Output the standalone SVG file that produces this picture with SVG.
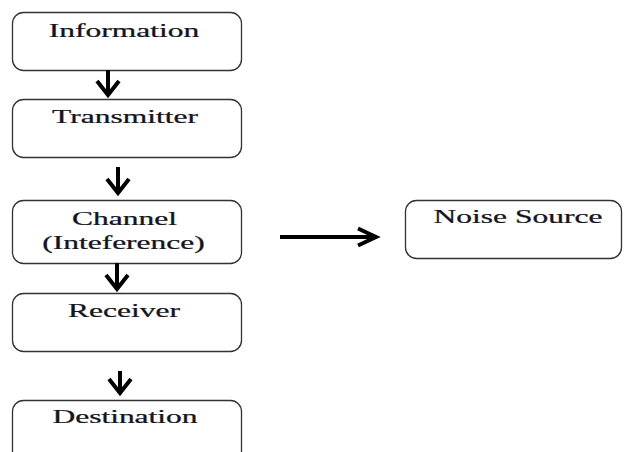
<svg xmlns="http://www.w3.org/2000/svg" width="625" height="452" viewBox="0 0 625 452">
<style>
.box{fill:#fff;stroke:#333;stroke-width:1.3}
.t{font-family:"Liberation Serif","Times New Roman",serif;font-size:18px;fill:#141420;stroke:#141420;stroke-width:0.25;text-anchor:middle}
.c{fill:none;stroke:#000;stroke-width:4;stroke-linecap:butt;stroke-linejoin:miter}
</style>
<rect width="625" height="452" fill="#fff"/>
<g id="information"><rect class="box" x="12.5" y="12.5" width="229" height="58" rx="11"/><text class="t" transform="translate(124,37) scale(1.75,1)">Information</text></g>
<g id="transmitter"><rect class="box" x="12.5" y="99.5" width="229" height="58" rx="11"/><text class="t" transform="translate(125,123) scale(1.75,1)">Transmitter</text></g>
<g id="channel"><rect class="box" x="12.5" y="200.5" width="229" height="63" rx="11"/><text class="t" transform="translate(124.5,225) scale(1.75,1)">Channel</text><text class="t" transform="translate(123.5,249) scale(1.75,1)">(Inteference)</text></g>
<g id="receiver"><rect class="box" x="12.5" y="293.5" width="229" height="58" rx="11"/><text class="t" transform="translate(124,317) scale(1.75,1)">Receiver</text></g>
<g id="destination"><path class="box" d="M12.5,460 V411.5 A11,11 0 0 1 23.5,400.5 H230.5 A11,11 0 0 1 241.5,411.5 V460"/><text class="t" transform="translate(125,423) scale(1.75,1)">Destination</text></g>
<g id="noise"><rect class="box" x="405.5" y="200.5" width="216" height="58" rx="11"/><text class="t" transform="translate(518,223) scale(1.75,1)">Noise Source</text></g>
<g id="connectors">
<path class="c" d="M108,70 V95 M97,81 L108,95 L119,81"/>
<path class="c" d="M118,167 V193 M107,179 L118,193 L129,179"/>
<path class="c" d="M117,263 V289 M106,275 L117,289 L128,275"/>
<path class="c" d="M120,371 V393 M109,379 L120,393 L131,379"/>
<path class="c" d="M280,237 H376 M358,228.5 L376,237 L358,245.5"/>
</g>
</svg>
